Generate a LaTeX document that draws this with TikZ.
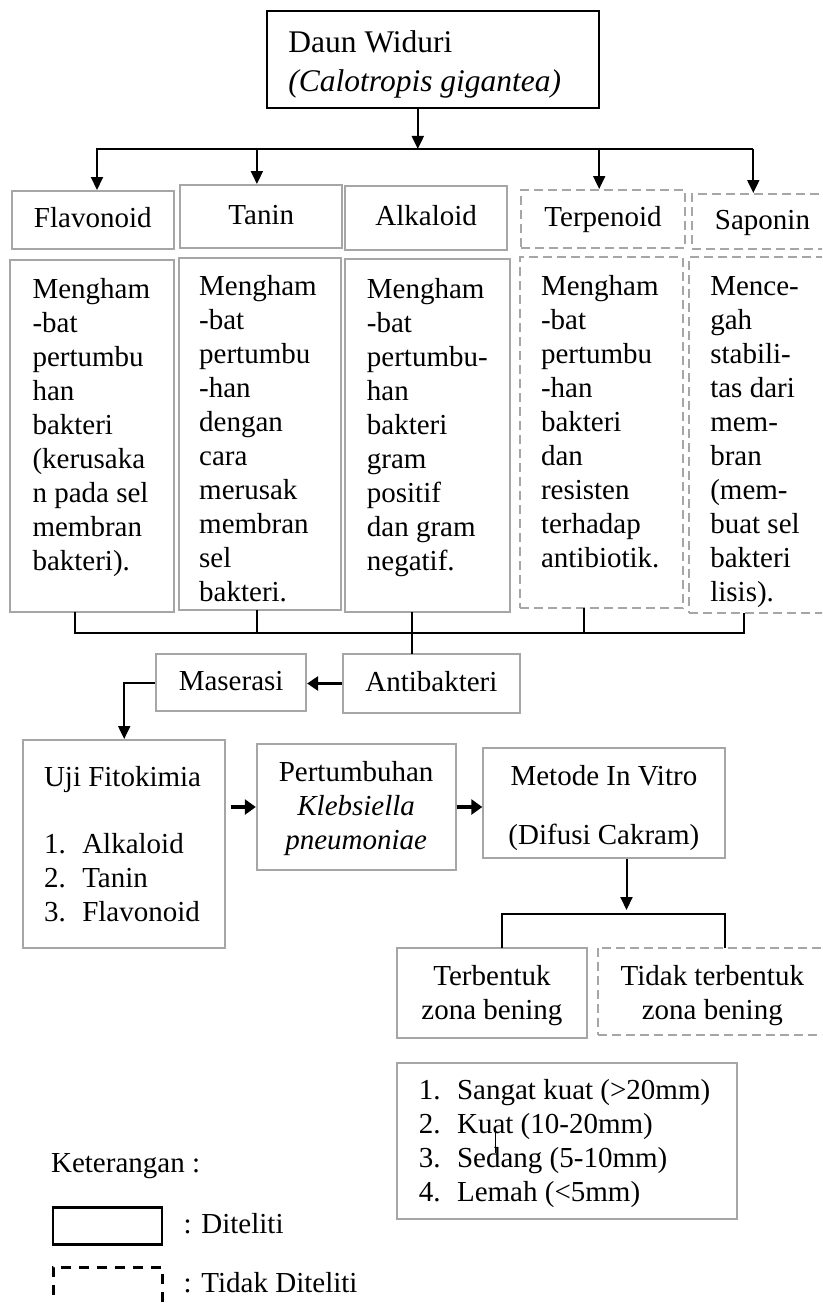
\documentclass[tikz,border=0pt]{standalone}
\usepackage{fontspec}
\setmainfont{Liberation Serif}
\usetikzlibrary{positioning,arrows.meta}
\definecolor{boxgray}{RGB}{166,166,166}
\hyphenpenalty=10000
\exhyphenpenalty=10000
\hbadness=10000

\begin{document}
\begin{tikzpicture}[x=1pt, y=-1pt,
  every node/.style={font=\fontsize{29}{34}\selectfont, inner sep=0pt},
  solidbox/.style={draw=boxgray, line width=2pt, anchor=north west},
  dashbox/.style={draw=boxgray, line width=2pt, dash pattern=on 9pt off 5pt, anchor=north west},
  headbox/.style={text height=21pt, text depth=6pt, align=flush center},
  line/.style={line width=2pt, line cap=rect},
  arr/.style={line width=2pt, -{Triangle[length=13pt,width=12pt]}},
  midarr/.style={line width=3pt, -{Triangle[length=11pt,width=14pt]}},
  fatarr/.style={line width=4pt, -{Triangle[length=11pt,width=15pt]}}]
\useasboundingbox (0,0) rectangle (822,1303);
\clip (0,0) rectangle (822,1303);

\node[draw, line width=2.2pt, anchor=north west, text width=288.8pt, inner xsep=21.5pt, align=flush left, text height=41pt, text depth=56pt, font=\fontsize{31.5}{39}\selectfont] (daun) at (265.8,10) {Daun Widuri\\\textit{(Calotropis gigantea)}};

\node[solidbox, headbox, minimum width=162.5pt, minimum height=58pt] (flav) at (10.5,190) {Flavonoid};
\node[solidbox, headbox, minimum width=162pt, minimum height=63pt] (tanin) at (179.3,184) {Tanin};
\node[solidbox, headbox, minimum width=161.5pt, minimum height=64pt] (alk) at (344.4,185) {Alkaloid};
\node[dashbox, headbox, minimum width=164.1pt, minimum height=58pt] (terp) at (520,189) {Terpenoid};
\node[dashbox, headbox, minimum width=141pt, minimum height=55pt] (sapo) at (691,193) {Saponin};

\node[solidbox, align=flush left, inner xsep=22.1pt, text width=119.4pt, text height=38pt, text depth=314pt] (flavdesc) at (9.4,259) {Mengham\\-bat\\pertumbu\\han\\bakteri\\(kerusaka\\n pada sel\\membran\\bakteri).};
\node[solidbox, align=flush left, inner xsep=20pt, text width=121.5pt, text height=37pt, text depth=315pt] (tanindesc) at (178.2,257) {Mengham\\-bat\\pertumbu\\-han\\dengan\\cara\\merusak\\membran\\sel\\bakteri.};
\node[solidbox, align=flush left, inner xsep=21.5pt, text width=121.1pt, text height=39pt, text depth=314pt] (alkdesc) at (344.4,258) {Mengham\\-bat\\pertumbu-\\han\\bakteri\\gram\\positif\\dan gram\\negatif.};
\node[dashbox, align=flush left, inner xsep=21pt, text width=120.5pt, text height=38pt, text depth=313pt] (terpdesc) at (519,256) {Mengham\\-bat\\pertumbu\\-han\\bakteri\\dan\\resisten\\terhadap\\antibiotik.};
\node[dashbox, align=flush left, inner xsep=21pt, text width=100pt, text height=38pt, text depth=318pt] (sapdesc) at (688.3,256) {Mence-\\gah\\stabili-\\tas dari\\mem-\\bran\\(mem-\\buat sel\\bakteri\\lisis).};

\node[solidbox, headbox, minimum width=149.9pt, minimum height=57pt] (mas) at (155.2,653) {Maserasi};
\node[solidbox, headbox, minimum width=177.2pt, minimum height=59pt] (anti) at (341.8,653) {Antibakteri};

\node[solidbox, align=flush left, inner xsep=21pt, text width=160.4pt, text height=46pt, text depth=162pt] (uji) at (22,739) {Uji Fitokimia\\[33pt]\makebox[38.3pt][l]{1.}Alkaloid\\\makebox[38.3pt][l]{2.}Tanin\\\makebox[38.3pt][l]{3.}Flavonoid};
\node[solidbox, align=flush center, inner xsep=10pt, text width=178.7pt, text height=37pt, text depth=89pt] (pert) at (255.8,743) {Pertumbuhan\\\textit{Klebsiella}\\\textit{pneumoniae}};
\node[solidbox, align=flush center, inner xsep=10pt, text width=221.2pt, text height=37pt, text depth=73pt] (metode) at (482.3,747) {Metode In Vitro\\[25pt](Difusi Cakram)};

\node[solidbox, align=flush center, inner xsep=10pt, text width=170.3pt, text height=37pt, text depth=53pt] (terb) at (395.8,947) {Terbentuk\\zona bening};
\node[dashbox, align=flush center, inner xsep=10pt, text width=209.4pt, text height=37pt, text depth=50pt] (tidak) at (596.6,947) {Tidak terbentuk\\zona bening};

\node[solidbox, align=flush left, inner xsep=22pt, text width=295.7pt, text height=36pt, text depth=120pt] (skala) at (395.8,1062) {\makebox[38.3pt][l]{1.}Sangat kuat (>20mm)\\\makebox[38.3pt][l]{2.}Kuat (10-20mm)\\\makebox[38.3pt][l]{3.}Sedang (5-10mm)\\\makebox[38.3pt][l]{4.}Lemah (<5mm)};

\node[anchor=base west] (ket) at (50.9,1172) {Keterangan :};
\node[draw, line width=2.5pt, anchor=north west, minimum width=109pt, minimum height=37pt] (legsolid) at (51.9,1206) {};
\node[anchor=base west] (legsolidtxt) at (183.5,1233) {: Diteliti};
\node[draw, line width=2.5pt, dash pattern=on 10pt off 8pt, anchor=north west, minimum width=109pt, minimum height=70pt] (legdash) at (52,1266) {};
\node[anchor=base west] (legdashtxt) at (183.5,1292) {: Tidak Diteliti};

\coordinate (forkL) at (97,149);
\coordinate (forkR) at (752.3,149);
\coordinate (forkM) at (417.8,149);
\coordinate (dropT) at (256.9,149);
\coordinate (dropP) at (599.2,149);
\coordinate (dropS) at (753.3,149);

\draw[arr] (forkM |- daun.south) -- (forkM);
\draw[line] (forkL) -- (forkR);
\draw[arr] (forkL) -- (forkL |- flav.north);
\draw[arr] (dropT) -- (dropT |- tanin.north);
\draw[arr] (dropP) -- (dropP |- terp.north);
\draw[arr] (dropS) -- (dropS |- sapo.north);

\coordinate (joinL) at (75,633);
\coordinate (joinT) at (256.9,633);
\coordinate (joinA) at (411.5,633);
\coordinate (joinP) at (583.5,633);
\coordinate (joinR) at (744.4,633);

\draw[line] (joinL |- flavdesc.south) -- (joinL) -- (joinR) -- (joinR |- sapdesc.south);
\draw[line] (joinT |- tanindesc.south) -- (joinT);
\draw[line] (joinA |- alkdesc.south) -- (joinA |- anti.north);
\draw[line] (joinP |- terpdesc.south) -- (joinP);

\draw[midarr] (anti.west) -- (anti.west -| mas.east);
\draw[arr] (mas.west) -| (uji.north);
\draw[fatarr, shorten <=5pt] (uji.east |- pert.west) -- (pert.west);
\draw[fatarr] (pert.east) -- (pert.east -| metode.west);

\coordinate (forkB) at (626.5,914);
\coordinate (splitL) at (502.2,914);
\coordinate (splitR) at (724.5,914);

\draw[arr, shorten >=4pt] (forkB |- metode.south) -- (forkB);
\draw[line] (splitL |- terb.north) -- (splitL) -- (splitR) -- (splitR |- tidak.north);

\coordinate (kuatmark) at (495.4,1130);
\draw[line width=1.2pt] (kuatmark) -- ++(0,23);
\end{tikzpicture}
\end{document}
